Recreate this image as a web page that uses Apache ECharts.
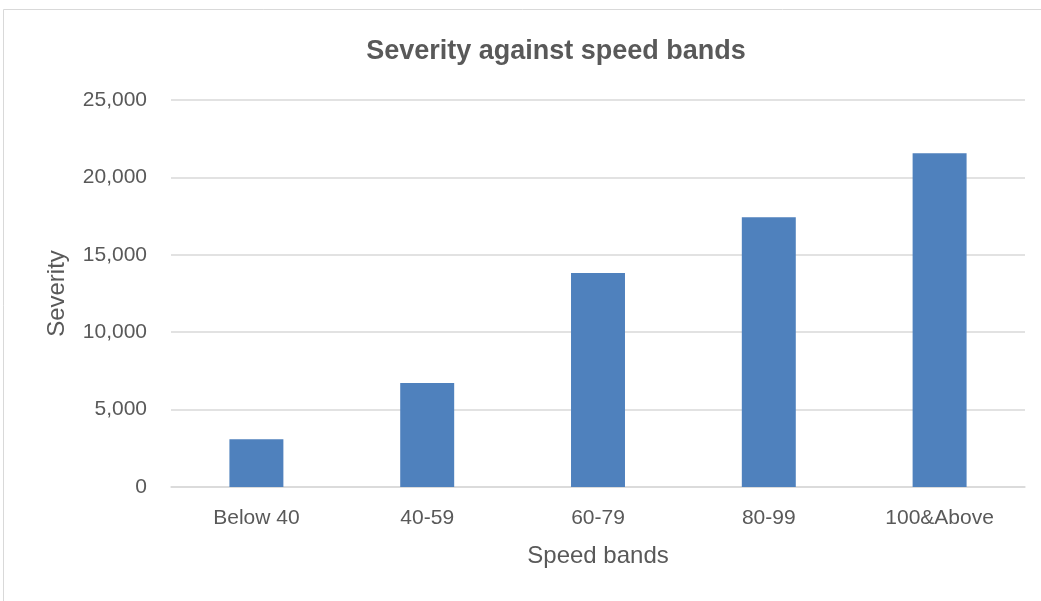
<!DOCTYPE html>
<html>
<head>
<meta charset="utf-8">
<script src="https://cdn.jsdelivr.net/npm/echarts@6/dist/echarts.min.js"></script>
<style>
  html, body { margin: 0; padding: 0; background: #ffffff; }
  #chart { width: 1041px; height: 601px; }
</style>
</head>
<body>
<div id="chart"></div>
<script>
// Severity totals per speed band
const categories = ['Below 40', '40-59', '60-79', '80-99', '100&Above'];
const severity = [3080, 6720, 13820, 17420, 21560];
const yTicks = { min: 0, max: 25000, interval: 5000 };

const FONT = '"Liberation Sans", Arial, sans-serif';
const TEXT = '#595959';
const GRID = '#d9d9d9';

const chart = echarts.init(document.getElementById('chart'), null, { renderer: 'canvas' });

chart.setOption({
  backgroundColor: '#ffffff',
  animation: false,
  title: {
    text: 'Severity against speed bands',
    left: 551,
    top: 33,
    textAlign: 'center',
    textStyle: { fontFamily: FONT, fontSize: 27, fontWeight: 'bold', color: TEXT }
  },
  graphic: [{
    type: 'rect',
    shape: { x: 3.5, y: 9.5, width: 1100, height: 700 },
    style: { fill: 'none', stroke: GRID, lineWidth: 1 },
    silent: true
  }],
  grid: { left: 171, right: 16, top: 100, bottom: 114 },
  xAxis: {
    type: 'category',
    data: categories,
    name: 'Speed bands',
    nameLocation: 'middle',
    nameGap: 57,
    nameTextStyle: { fontFamily: FONT, fontSize: 24, color: TEXT },
    axisLine: { lineStyle: { color: GRID, width: 1.5 } },
    axisTick: { show: false },
    axisLabel: { fontFamily: FONT, fontSize: 21, color: TEXT, margin: 21 }
  },
  yAxis: {
    type: 'value',
    min: yTicks.min,
    max: yTicks.max,
    interval: yTicks.interval,
    name: 'Severity',
    nameLocation: 'middle',
    nameGap: 102,
    nameTextStyle: { fontFamily: FONT, fontSize: 24, color: TEXT },
    axisLine: { show: false },
    axisTick: { show: false },
    splitLine: { lineStyle: { color: GRID, width: 1.5 } },
    axisLabel: {
      fontFamily: FONT, fontSize: 21, color: TEXT, margin: 24,
      formatter: v => v.toLocaleString('en-US')
    }
  },
  series: [{
    type: 'bar',
    data: severity,
    barWidth: '31.6%',
    itemStyle: { color: '#4f81bd' }
  }]
});
</script>
</body>
</html>
